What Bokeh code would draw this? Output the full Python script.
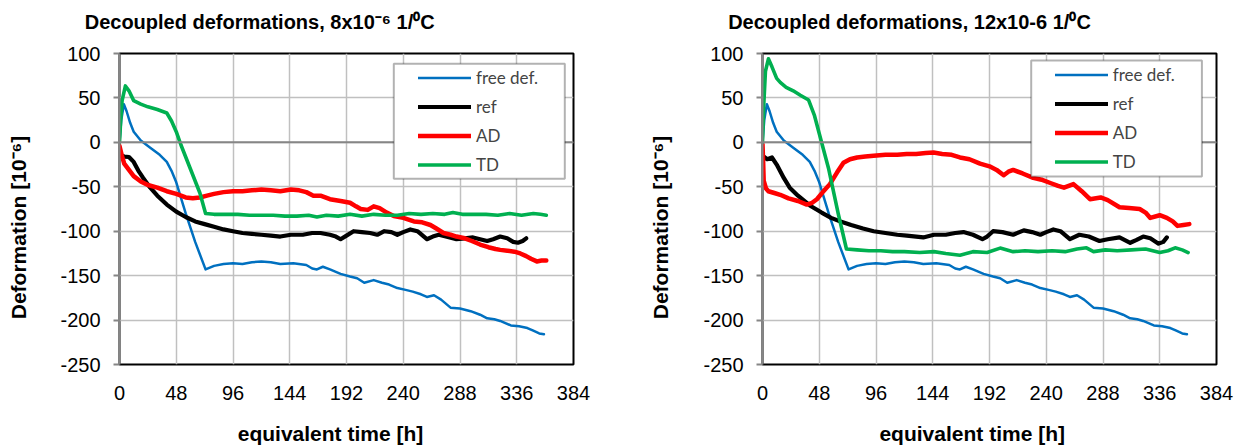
import math
from bokeh.plotting import figure
from bokeh.models import (Legend, LegendItem, Label, BoxAnnotation, Span,
                          FixedTicker, Range1d, PrintfTickFormatter)
from bokeh.layouts import row
from bokeh.embed import file_html
from bokeh.resources import INLINE

# ---------------- data ----------------
x_ticks = [0, 48, 96, 144, 192, 240, 288, 336, 384]
y_ticks = [-250, -200, -150, -100, -50, 0, 50, 100]

series_names = ["free def.", "ref", "AD", "TD"]

# free deformation (same in both charts)
free_t = [0, 1.5, 3.7, 6, 9, 12, 18, 26, 34, 40, 44, 48, 56, 64, 72.8, 80, 88, 96, 104, 112,
          120, 128, 136, 147, 158, 163, 167, 172, 178, 187, 195, 201, 207, 215, 222, 228, 235,
          242, 248, 255, 260, 266, 272, 280, 288, 297, 305, 311, 317, 322, 331, 338, 345, 350,
          355, 359]
free_v = [0, 25, 43, 35, 22, 12, 2, -6, -14, -22, -32, -45, -80, -112, -143, -139, -137, -136,
          -137, -135, -134, -135, -137, -136, -138, -142, -143, -140, -143, -148, -151, -153,
          -158, -155, -158, -160, -164, -166, -168, -171, -174, -172, -177, -186, -187, -190,
          -194, -198, -199, -201, -206, -207, -209, -212, -215, -216]

# chart 1 : 8x10-6 1/0C
ref1_t = [0, 4, 8, 12, 16, 20, 26, 32, 40, 48, 56, 64, 72, 80, 88, 96, 104, 112, 120, 128, 136,
          145, 155, 163, 170, 178, 183, 187, 192, 198, 205, 212, 218, 224, 230, 235, 240, 246,
          252, 260, 265, 270, 276, 285, 292, 299, 305, 311, 316, 322, 328, 333, 337, 341, 344]
ref1_v = [-14, -16, -16.5, -22, -32, -40, -51, -60, -70, -78, -84, -89, -92, -95, -98, -100,
          -102, -103, -104, -105, -106, -104, -104, -102, -102, -104, -106, -109, -105, -100,
          -101, -102, -104, -100, -101, -104, -101, -98, -100, -109, -106, -104, -106, -109,
          -108, -107, -109, -111, -109, -106, -108, -112, -113, -111, -108]

ad1_t = [0, 2, 4, 8, 12, 18, 24, 32, 40, 48, 56, 62, 68, 74, 80, 88, 96, 104, 112, 120, 128,
         136, 145, 152, 158, 164, 170, 178, 187, 195, 200, 204, 210, 215, 220, 226, 232, 240,
         249, 256, 263, 268, 274, 280, 285, 292, 298, 305, 312, 318, 322, 328, 334, 339, 344,
         348, 353, 357, 361]
ad1_v = [-4, -15, -24, -31, -38, -44, -48, -51, -55, -58, -62, -63, -62, -60, -58, -56, -55,
         -55, -54, -53, -54, -55, -53, -54, -56, -60, -60, -64, -66, -68, -72, -75, -76, -72,
         -74, -79, -83, -85, -89, -90, -93, -97, -102, -104, -106, -108, -111, -115, -118,
         -120, -121, -122, -123, -125, -128, -131, -134, -133, -133]

td1_t = [0, 1, 2.2, 5, 8, 12, 18, 24, 32, 40, 44, 48, 52, 60, 68, 72.8, 80, 90, 100, 110, 120,
         130, 140, 150, 160, 167, 175, 185, 195, 205, 215, 225, 235, 245, 255, 265, 275, 282,
         290, 300, 310, 320, 330, 340, 350, 356, 361]
td1_v = [0, 25, 47, 63.5, 58, 47, 43, 40, 37, 33, 24, 12, -3, -30, -57, -80, -81, -81, -81,
         -82, -82, -82, -83, -83, -82, -84, -82, -83, -81, -83, -81, -82, -82, -80, -81, -80,
         -81, -79, -81, -81, -81, -82, -80, -82, -80, -81, -82]

# chart 2 : 12x10-6 1/0C
ref2_t = [0, 4, 8, 12, 18, 23, 30, 40, 50, 58, 66, 75, 85, 94, 104, 114, 122, 130, 136, 145,
          155, 163, 170, 178, 186, 190, 195, 203, 212, 221, 228, 235, 240, 246, 252, 260, 268,
          276, 285, 292, 302, 311, 316, 322, 328, 335, 339, 342]
ref2_v = [-15, -19, -17, -25, -40, -51, -60, -71, -79, -85, -89, -93, -97, -100, -102, -104,
          -105, -106, -107, -104, -104, -102, -101, -104, -109, -106, -100, -101, -104, -99,
          -101, -104, -101, -98, -100, -109, -104, -106, -111, -109, -107, -113, -110, -106,
          -108, -114, -112, -107]

ad2_t = [0, 0.5, 1, 3, 5, 10, 15, 22, 30, 37.5, 42, 46, 51, 57, 63, 68.5, 74, 80, 87, 94, 104,
         114, 122, 130, 138, 144.7, 152, 160, 167, 175, 184, 192, 198, 204, 208, 212, 220, 229,
         236, 244, 250, 255, 263, 270, 277, 286, 292, 302, 310, 319, 324, 328, 336, 342, 347,
         351, 356, 361]
ad2_v = [-2, -20, -43, -52, -55, -57, -59, -63, -66, -70, -68, -64, -56, -47, -34, -23, -19,
         -17, -16, -15, -14, -14, -13, -13, -12, -11.5, -13, -14, -17, -19, -24, -27, -31, -37,
         -33, -31, -35, -40, -42, -46, -49, -51, -47, -55, -64, -62, -65, -73, -74, -75, -79,
         -85, -82, -85, -89, -94, -93, -92]

td2_t = [0, 1, 2.5, 5, 8, 12, 15, 20, 26, 32, 39, 44, 49, 56, 64, 71, 80, 90, 100, 110, 120,
         133, 145, 155, 167, 178, 190, 201, 212, 222, 233, 245, 256, 266, 274, 280, 290, 300,
         312, 324, 336, 343, 349, 355, 360]
td2_v = [0, 40, 80, 94, 85, 72, 67.5, 62, 58, 53, 47.6, 30, 5, -30, -80, -120, -121, -122,
         -122, -123, -123, -124, -123, -125, -127, -123, -124, -119, -123, -122, -123, -122,
         -123, -120, -118.7, -123, -121, -122, -121, -120, -124, -122, -118.7, -121, -124]

title1 = "Decoupled deformations, 8x10\u207b\u2076 1/\u2070C"
title2 = "Decoupled deformations, 12x10-6 1/\u2070C"
x_title = "equivalent time [h]"
y_title = "Deformation [10\u207b\u2076]"

# ---------------- style ----------------
colors = ["#0070C0", "#000000", "#FF0000", "#00B050"]
widths = [2.5, 4.2, 4.5, 3.6]
FONT = "Liberation Sans"
FRAME_W, FRAME_H = 454, 311


def text_label(text, x, y, size, angle=0.0):
    return Label(x=x, y=y, x_units="screen", y_units="screen", text=text,
                 text_font=FONT, text_font_size=size, text_font_style="bold",
                 text_color="black", text_align="center", text_baseline="middle",
                 angle=angle)


def make_chart(title, title_x, xlab_x, ylab_x, data, border_left, border_right,
               box, leg_loc):
    p = figure(frame_width=FRAME_W, frame_height=FRAME_H,
               min_border_left=border_left, min_border_right=border_right,
               min_border_top=53, min_border_bottom=82,
               x_range=Range1d(0, 384), y_range=Range1d(-250, 100),
               output_backend="svg", toolbar_location=None, title=None)
    p.background_fill_color = "white"
    p.border_fill_color = "white"
    p.outline_line_color = "black"
    p.outline_line_width = 2

    p.xaxis.ticker = FixedTicker(ticks=x_ticks)
    p.yaxis.ticker = FixedTicker(ticks=y_ticks)
    p.yaxis.formatter = PrintfTickFormatter(format="%d")
    for ax in (p.xaxis, p.yaxis):
        ax.major_label_text_font = FONT
        ax.major_label_text_font_size = "20px"
        ax.major_label_text_color = "black"
        ax.minor_tick_line_color = None
    p.xaxis.axis_line_color = None
    p.xaxis.major_tick_line_color = None
    p.xaxis.major_label_standoff = 15
    p.yaxis.axis_line_color = "#868686"
    p.yaxis.axis_line_width = 2
    p.yaxis.major_tick_line_color = "#868686"
    p.yaxis.major_tick_line_width = 2
    p.yaxis.major_tick_out = 6
    p.yaxis.major_tick_in = 0
    p.yaxis.major_label_standoff = 13

    p.xgrid.grid_line_color = "#C0C0C0"
    p.ygrid.grid_line_color = "#C0C0C0"
    p.xgrid.grid_line_width = 1.5
    p.ygrid.grid_line_width = 1.5

    p.add_layout(Span(location=0, dimension="width", line_color="#868686", line_width=2))

    renderers = []
    for (t, v), c, w in zip(data, colors, widths):
        r = p.line(t, v, line_color=c, line_width=w, line_join="round", line_cap="round")
        renderers.append(r)

    # legend frame
    p.add_layout(BoxAnnotation(left=box[0], right=box[1], bottom=box[2], top=box[3],
                               left_units="screen", right_units="screen",
                               top_units="screen", bottom_units="screen",
                               fill_color="white", fill_alpha=1.0,
                               line_color="black", line_width=2))
    legend = Legend(items=[LegendItem(label=n, renderers=[r])
                           for n, r in zip(series_names, renderers)],
                    location=leg_loc, padding=0, spacing=0, margin=0,
                    label_height=29, glyph_height=29, glyph_width=53,
                    label_standoff=5, border_line_alpha=0, background_fill_alpha=0,
                    label_text_font="Lato", label_text_font_size="17px")
    p.add_layout(legend)

    # titles as labels in side panels, outside the axes
    p.add_layout(text_label(title, title_x, 31.6, "20px"), "above")
    p.add_layout(text_label(y_title, ylab_x, 137, "21px", math.pi / 2), "left")
    p.add_layout(text_label(x_title, xlab_x, -7.5, "21px"), "below")
    return p


data1 = [(free_t, free_v), (ref1_t, ref1_v), (ad1_t, ad1_v), (td1_t, td1_v)]
data2 = [(free_t, free_v), (ref2_t, ref2_v), (ad2_t, ad2_v), (td2_t, td2_v)]

p1 = make_chart(title1, 140.2, 211, -16, data1, 119, 47,
                (274.3, 445.3, 185.7, 300.7), (299, 185.2))
p2 = make_chart(title2, 147, 209.7, -16.8, data2, 142, 27,
                (268.7, 439.4, 188, 304), (292.7, 188))

layout = row(p1, p2)
open("out.html", "w").write(file_html(layout, INLINE))
